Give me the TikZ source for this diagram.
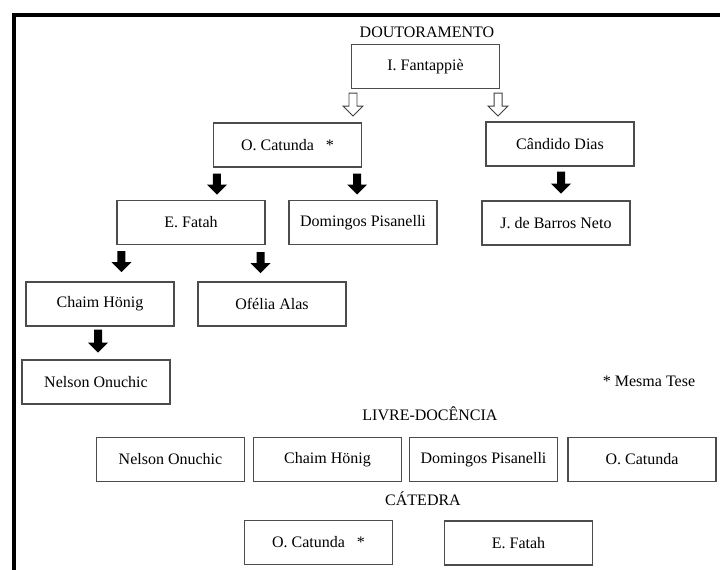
\documentclass[tikz,border=0pt]{standalone}
\usepackage{fontspec}
\setmainfont{Liberation Serif}

\begin{document}
\begin{tikzpicture}[x=1pt,y=-1pt,font=\fontsize{16}{18}\selectfont,
  box/.style={draw=black!70,line width=1.1pt,minimum width=148pt,minimum height=44pt,inner sep=0pt},
  title/.style={anchor=base},
  blackarrow/.style={fill=black},
  openarrow/.style={draw=black!75,fill=white,line width=0.9pt},
  pics/dnarrow/.style={code={\path[pic actions] (-4,0) -- (4,0) -- (4,#1) -- (10,#1) -- (0,#1+10) -- (-10,#1) -- (-4,#1) -- cycle;}}]
\useasboundingbox (0,0) rectangle (720,570);
\draw[line width=4.5pt] (14,570) -- (14,15) -- (720,15);

\node[title] (doc) at (427,37) {DOUTORAMENTO};
\node[box] (fant) at (425.5,66.5) {I. Fantappiè};
\node[box] (cat) at (287.5,145) {O. Catunda \ \ *};
\node[box] (dias) at (560,144) {Cândido Dias};
\node[box] (fatah) at (191,222.5) {E. Fatah};
\node[box] (pis) at (363,222.5) {Domingos Pisanelli};
\node[box] (barros) at (556,223) {J. de Barros Neto};
\node[box] (honig) at (100,304) {Chaim Hönig};
\node[box] (ofelia) at (272,304) {Ofélia Alas};
\node[box] (onuchic) at (96,382) {Nelson Onuchic};
\node (tese) at (649,381) {* Mesma Tese};

\pic[openarrow] at ([shift={(2,4)}]fant.south west) {dnarrow=13};
\pic[openarrow] at ([shift={(-2,4)}]fant.south east) {dnarrow=13};
\pic[blackarrow] at ([shift={(4,6)}]cat.south west) {dnarrow=11};
\pic[blackarrow] at ([shift={(-5,6)}]cat.south east) {dnarrow=11};
\pic[blackarrow] at ([shift={(1,5)}]dias.south) {dnarrow=12};
\pic[blackarrow] at ([shift={(5,6)}]fatah.south west) {dnarrow=11};
\pic[blackarrow] at ([shift={(-5,7)}]fatah.south east) {dnarrow=11};
\pic[blackarrow] at ([shift={(-2,3)}]honig.south) {dnarrow=13};

\node[title] (livre) at (430,420) {LIVRE-DOCÊNCIA};
\node[box] (ld1) at (170.5,459.5) {Nelson Onuchic};
\node[box] (ld2) at (327.5,459.5) {Chaim Hönig};
\node[box] (ld3) at (483.5,459.5) {Domingos Pisanelli};
\node[box] (ld4) at (642,459.5) {O. Catunda};

\node[title] (catedra) at (423,505) {CÁTEDRA};
\node[box] (cat2) at (318.5,542.5) {O. Catunda \ \ *};
\node[box] (fatah2) at (518.5,543) {E. Fatah};
\end{tikzpicture}
\end{document}
